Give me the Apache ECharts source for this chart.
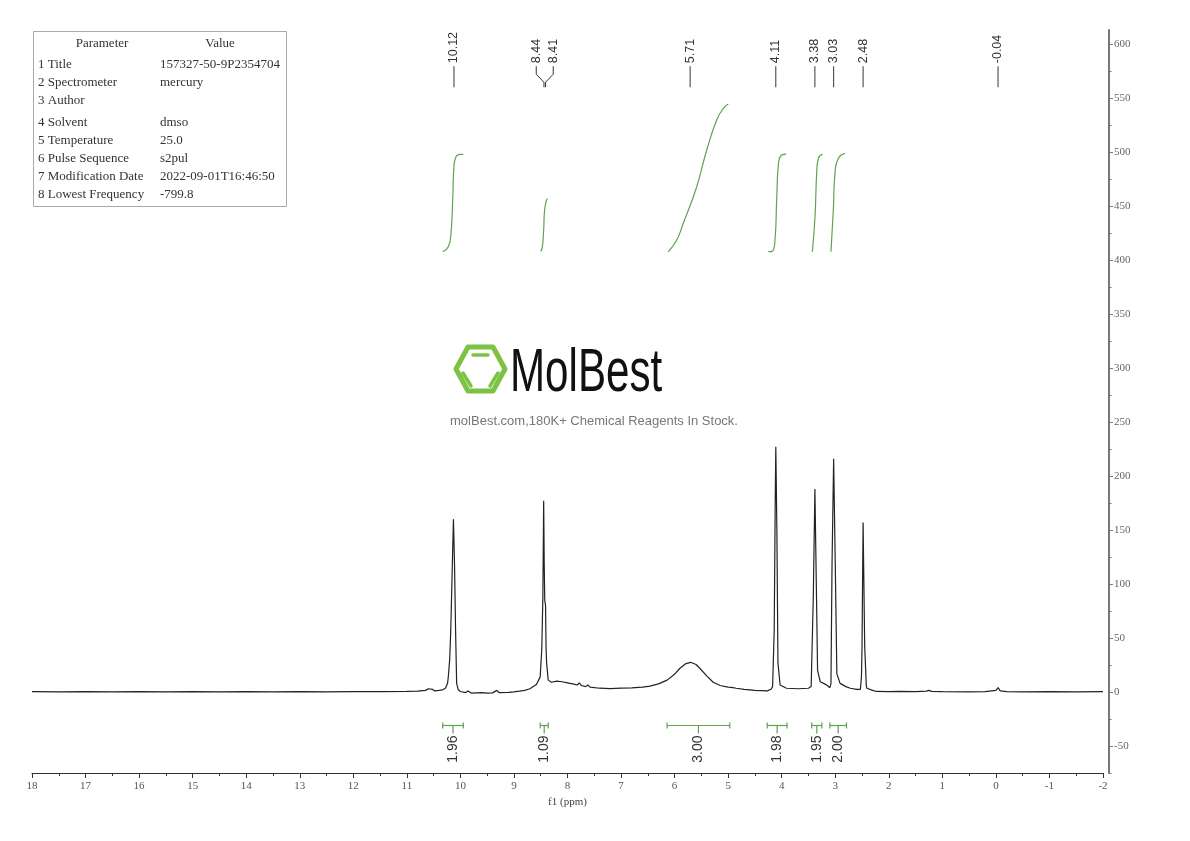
<!DOCTYPE html>
<html><head><meta charset="utf-8">
<script src="https://cdn.jsdelivr.net/npm/echarts@6/dist/echarts.min.js"></script>
<style>html,body{margin:0;padding:0;background:#fff}#c{width:1190px;height:841px}</style>
</head><body><div id="c"></div>
<script>
// ---------------- DATA ----------------
// 1H NMR trace, [ppm, intensity]
const spectrum = [
 [18.0,0.3],[17.5,0.2],[17.0,0.4],[16.5,0.2],[16.0,0.3],[15.5,0.1],[15.0,0.3],[14.5,0.2],[14.0,0.4],[13.5,0.2],
 [13.0,0.3],[12.5,0.2],[12.0,0.4],[11.5,0.3],[11.0,0.5],[10.8,0.8],[10.65,1.5],[10.6,3],[10.57,1.2],[10.52,2.5],
 [10.48,1],[10.4,1.5],[10.33,2],[10.28,3.5],[10.24,8],[10.226,14],[10.2,30],[10.18,57],[10.15,119],[10.13,160],
 [10.11,119],[10.09,57],[10.07,8],[10.04,2],[10.0,0.5],[9.9,-0.5],[9.86,1],[9.8,-1],[9.6,-0.5],[9.5,-1],
 [9.4,-0.8],[9.32,1.5],[9.28,-0.5],[9.1,-0.3],[9.0,0.2],[8.9,0.8],[8.8,1.5],[8.7,3],[8.64,5],[8.58,7],
 [8.51,14],[8.48,40],[8.46,88],[8.445,177],[8.435,119],[8.425,85],[8.41,80],[8.40,40],[8.39,27],[8.36,11],
 [8.3,9],[8.2,10],[8.1,9.5],[8.0,8.5],[7.9,7.5],[7.82,6.5],[7.78,8.5],[7.74,6],[7.66,5],[7.62,6.5],
 [7.58,4.5],[7.4,3.5],[7.2,3.2],[7.0,3.5],[6.8,3.8],[6.6,4.5],[6.46,5.5],[6.3,7.5],[6.14,11],[6.0,16.5],
 [5.9,22],[5.8,26],[5.7,27.5],[5.6,25.5],[5.53,22],[5.4,15],[5.28,9],[5.15,6],[5.0,4.5],[4.91,4],
 [4.88,4.8],[4.85,3.5],[4.7,2.5],[4.5,1.5],[4.27,1],[4.2,2.5],[4.17,5],[4.14,57],[4.12,181],[4.11,227],
 [4.09,150],[4.07,27],[4.03,6.5],[3.91,3.5],[3.7,3],[3.5,3.5],[3.45,5],[3.41,88],[3.38,188],[3.35,88],
 [3.33,20],[3.28,9.5],[3.2,7.5],[3.16,6.5],[3.10,4],[3.08,8],[3.06,119],[3.03,216],[3.00,119],[2.97,17],
 [2.91,8],[2.8,5],[2.72,3.5],[2.6,2.5],[2.53,2.5],[2.51,15],[2.50,42],[2.48,157],[2.45,42],[2.42,6],
 [2.41,3.5],[2.3,1.5],[2.23,0.5],[2.0,0.3],[1.8,0.5],[1.5,0.3],[1.3,0.8],[1.25,1.5],[1.2,0.6],[1.0,0.3],
 [0.5,0.2],[0.2,0.3],[0.0,1.5],[-0.04,4],[-0.08,1],[-0.2,0.3],[-0.5,0.2],[-1.0,0.3],[-1.5,0.2],[-2.0,0.3]
];
// integral curves (green), [ppm, value]
const integral1 = [[10.33,407.7],[10.226,412.3],[10.176,424.7],[10.144,455.6],[10.12,486.4],[10.082,495.6],[10.007,497.9],[9.946,497.9]];
const integral2 = [[8.50,408],[8.47,412],[8.445,428],[8.43,445],[8.40,454],[8.377,457]];
const integral3 = [[6.117,407.7],[5.96,418.5],[5.838,434],[5.587,467.9],[5.40,501.9],[5.214,529.6],[5.09,540.5],[4.997,544.4]];
const integral4 = [[4.25,407.7],[4.18,408],[4.125,418.5],[4.094,455.6],[4.06,489.5],[4.0,497.2],[3.92,498.1]];
const integral5 = [[3.428,407.7],[3.378,440],[3.347,480.3],[3.316,494.2],[3.235,497.9]];
const integral6 = [[3.08,407.7],[3.036,446.3],[3.005,480.3],[2.943,494.2],[2.82,498.8]];
// integration ranges and values
const integStart  = [10.33, 8.51, 6.14, 4.27, 3.44, 3.10];
const integEnd    = [9.946, 8.36, 4.97, 3.90, 3.25, 2.79];
const integLabels = ['1.96','1.09','3.00','1.98','1.95','2.00'];
// peak picking
const peakPpm    = [10.12, 8.44, 8.41, 5.71, 4.11, 3.38, 3.03, 2.48, -0.04];
const peakLabels = ['10.12','8.44','8.41','5.71','4.11','3.38','3.03','2.48','-0.04'];
// right axis tick values
const yLabelValues = [-50,0,50,100,150,200,250,300,350,400,450,500,550,600];
const yMinorValues = [-75,-25,25,75,125,175,225,275,325,375,425,475,525,575];
// parameter table
const paramNames  = ['Title','Spectrometer','Author','Solvent','Temperature','Pulse Sequence','Modification Date','Lowest Frequency'];
const paramValues = ['157327-50-9P2354704','mercury','','dmso','25.0','s2pul','2022-09-01T16:46:50','-799.8'];

// ---------------- LAYOUT / STYLE ----------------
const GREEN = '#5fa24f';
const SERIF = '"Liberation Serif","DejaVu Serif",serif';
const SANS = '"Liberation Sans",Arial,sans-serif';
const PEAK_LABEL_BASE = 560;   // data level of the bottom of peak label stems
const INTEG_BAR_LEVEL = -31;   // data level of integration bars
const integrals = [integral1, integral2, integral3, integral4, integral5, integral6];

function renderPeakLabels(params, api) {
  const i = params.dataIndex;
  const px = peakPpm.map(p => api.coord([p, PEAK_LABEL_BASE]));
  // spread label positions so they don't overlap
  const order = px.map((p, k) => k).sort((a, b) => px[a][0] - px[b][0]);
  const lx = px.map(p => p[0]);
  const minGap = 17;
  let k = 0;
  while (k < order.length) {
    let j = k;
    while (j + 1 < order.length && px[order[j + 1]][0] - px[order[j]][0] < minGap) j++;
    if (j > k) {
      let mean = 0;
      for (let m = k; m <= j; m++) mean += px[order[m]][0];
      mean /= (j - k + 1);
      for (let m = k; m <= j; m++) lx[order[m]] = mean + (m - k - (j - k) / 2) * minGap;
    }
    k = j + 1;
  }
  const x0 = px[i][0], yb = px[i][1], x1 = lx[i];
  return {
    type: 'group',
    children: [
      { type: 'polyline', shape: { points: [[x1, yb - 21], [x1, yb - 13], [x0, yb - 5], [x0, yb]] },
        style: { stroke: '#333', lineWidth: 1, fill: null } },
      { type: 'text', x: x1, y: yb - 24, rotation: Math.PI / 2,
        style: { text: peakLabels[i], fontSize: 12.5, fontFamily: SANS, fill: '#333', align: 'left', verticalAlign: 'middle' } }
    ]
  };
}

function renderIntegBars(params, api) {
  const s = api.coord([api.value(0), INTEG_BAR_LEVEL]);
  const e = api.coord([api.value(1), INTEG_BAR_LEVEL]);
  const y = s[1], mx = (s[0] + e[0]) / 2;
  const st = { stroke: GREEN, lineWidth: 1.2 };
  return {
    type: 'group',
    children: [
      { type: 'line', shape: { x1: s[0], y1: y, x2: e[0], y2: y }, style: st },
      { type: 'line', shape: { x1: s[0], y1: y - 3, x2: s[0], y2: y + 3 }, style: st },
      { type: 'line', shape: { x1: e[0], y1: y - 3, x2: e[0], y2: y + 3 }, style: st },
      { type: 'line', shape: { x1: mx, y1: y, x2: mx, y2: y + 8 }, style: st },
      { type: 'text', x: mx, y: y + 10, rotation: Math.PI / 2,
        style: { text: integLabels[params.dataIndex], fontSize: 14, fontFamily: SANS, fill: '#333', align: 'right', verticalAlign: 'middle' } }
    ]
  };
}

// parameter table + watermark graphics
const rowY = [65, 83, 101, 123, 141, 159, 177, 195];
const graphics = [
  { type: 'rect', shape: { x: 33.5, y: 31.5, width: 253, height: 175 }, style: { fill: 'none', stroke: '#aaa', lineWidth: 1 } },
  { type: 'text', x: 102, y: 44, style: { text: 'Parameter', fontSize: 13, fontFamily: SERIF, fill: '#333', align: 'center', verticalAlign: 'middle' } },
  { type: 'text', x: 220, y: 44, style: { text: 'Value', fontSize: 13, fontFamily: SERIF, fill: '#333', align: 'center', verticalAlign: 'middle' } }
];
paramNames.forEach((n, i) => {
  graphics.push({ type: 'text', x: 38, y: rowY[i], style: { text: (i + 1) + ' ' + n, fontSize: 13, fontFamily: SERIF, fill: '#333', align: 'left', verticalAlign: 'middle' } });
  graphics.push({ type: 'text', x: 160, y: rowY[i], style: { text: paramValues[i], fontSize: 13, fontFamily: SERIF, fill: '#333', align: 'left', verticalAlign: 'middle' } });
});
const LOGO_GREEN = '#7dc243';
graphics.push(
  { type: 'polygon', shape: { points: [[456,369],[468,347],[493,347],[505,369],[493,391],[468,391]] },
    style: { fill: 'none', stroke: LOGO_GREEN, lineWidth: 5, lineJoin: 'round' } },
  { type: 'line', shape: { x1: 473, y1: 355, x2: 488, y2: 355 }, style: { stroke: LOGO_GREEN, lineWidth: 3.5, lineCap: 'round' } },
  { type: 'line', shape: { x1: 463, y1: 373, x2: 471, y2: 386 }, style: { stroke: LOGO_GREEN, lineWidth: 3.5, lineCap: 'round' } },
  { type: 'line', shape: { x1: 498, y1: 373, x2: 490, y2: 386 }, style: { stroke: LOGO_GREEN, lineWidth: 3.5, lineCap: 'round' } },
  { type: 'text', x: 510, y: 374, scaleX: 0.68, scaleY: 1,
    style: { text: 'MolBest', fontSize: 62, fontFamily: SANS, fill: '#111', align: 'left', verticalAlign: 'middle' } },
  { type: 'text', x: 594, y: 421, style: { text: 'molBest.com,180K+ Chemical Reagents In Stock.', fontSize: 13, fontFamily: SANS, fill: '#777', align: 'center', verticalAlign: 'middle' } }
);

const series = [
  { type: 'line', data: spectrum, showSymbol: false, symbol: 'none', lineStyle: { color: '#222', width: 1.2 }, z: 3, silent: true }
];
integrals.forEach(d => series.push({ type: 'line', data: d, smooth: true, showSymbol: false, symbol: 'none', lineStyle: { color: GREEN, width: 1.2 }, silent: true }));
series.push({ type: 'custom', renderItem: renderIntegBars, data: integStart.map((s, i) => [s, integEnd[i]]), encode: { x: [0, 1] }, clip: false, silent: true });
series.push({ type: 'custom', renderItem: renderPeakLabels, data: peakPpm.map(p => [p]), encode: { x: 0 }, clip: false, silent: true });

const chart = echarts.init(document.getElementById('c'));
chart.setOption({
  animation: false,
  backgroundColor: '#fff',
  grid: { left: 32, right: 87, top: 30, bottom: 68, containLabel: false, outerBoundsMode: 'none' },
  xAxis: {
    type: 'value', inverse: true, min: -2, max: 18, interval: 1,
    name: 'f1 (ppm)', nameLocation: 'middle', nameGap: 23,
    nameTextStyle: { fontFamily: SERIF, fontSize: 11, color: '#444' },
    axisLine: { show: true, onZero: false, lineStyle: { color: '#333', width: 1 } },
    axisTick: { show: true, length: 5, lineStyle: { color: '#333' } },
    minorTick: { show: true, splitNumber: 2, length: 3, lineStyle: { color: '#333' } },
    axisLabel: { fontFamily: SERIF, fontSize: 11, color: '#555', margin: 8 },
    splitLine: { show: false }, minorSplitLine: { show: false }
  },
  yAxis: [
    {
      type: 'value', position: 'right', offset: 6, min: -75, max: 613,
      axisLine: { show: true, onZero: false, lineStyle: { color: '#777', width: 2 } },
      axisTick: { show: true, length: 4, customValues: yLabelValues, lineStyle: { color: '#777' } },
      axisLabel: { show: true, customValues: yLabelValues, fontFamily: SERIF, fontSize: 11, color: '#666', margin: 5 },
      splitLine: { show: false }
    },
    {
      type: 'value', position: 'right', offset: 6, min: -75, max: 613,
      axisLine: { show: false, onZero: false },
      axisTick: { show: true, length: 2.5, customValues: yMinorValues, lineStyle: { color: '#777' } },
      axisLabel: { show: false, customValues: yMinorValues },
      splitLine: { show: false }
    }
  ],
  graphic: graphics,
  series: series
});
</script></body></html>
